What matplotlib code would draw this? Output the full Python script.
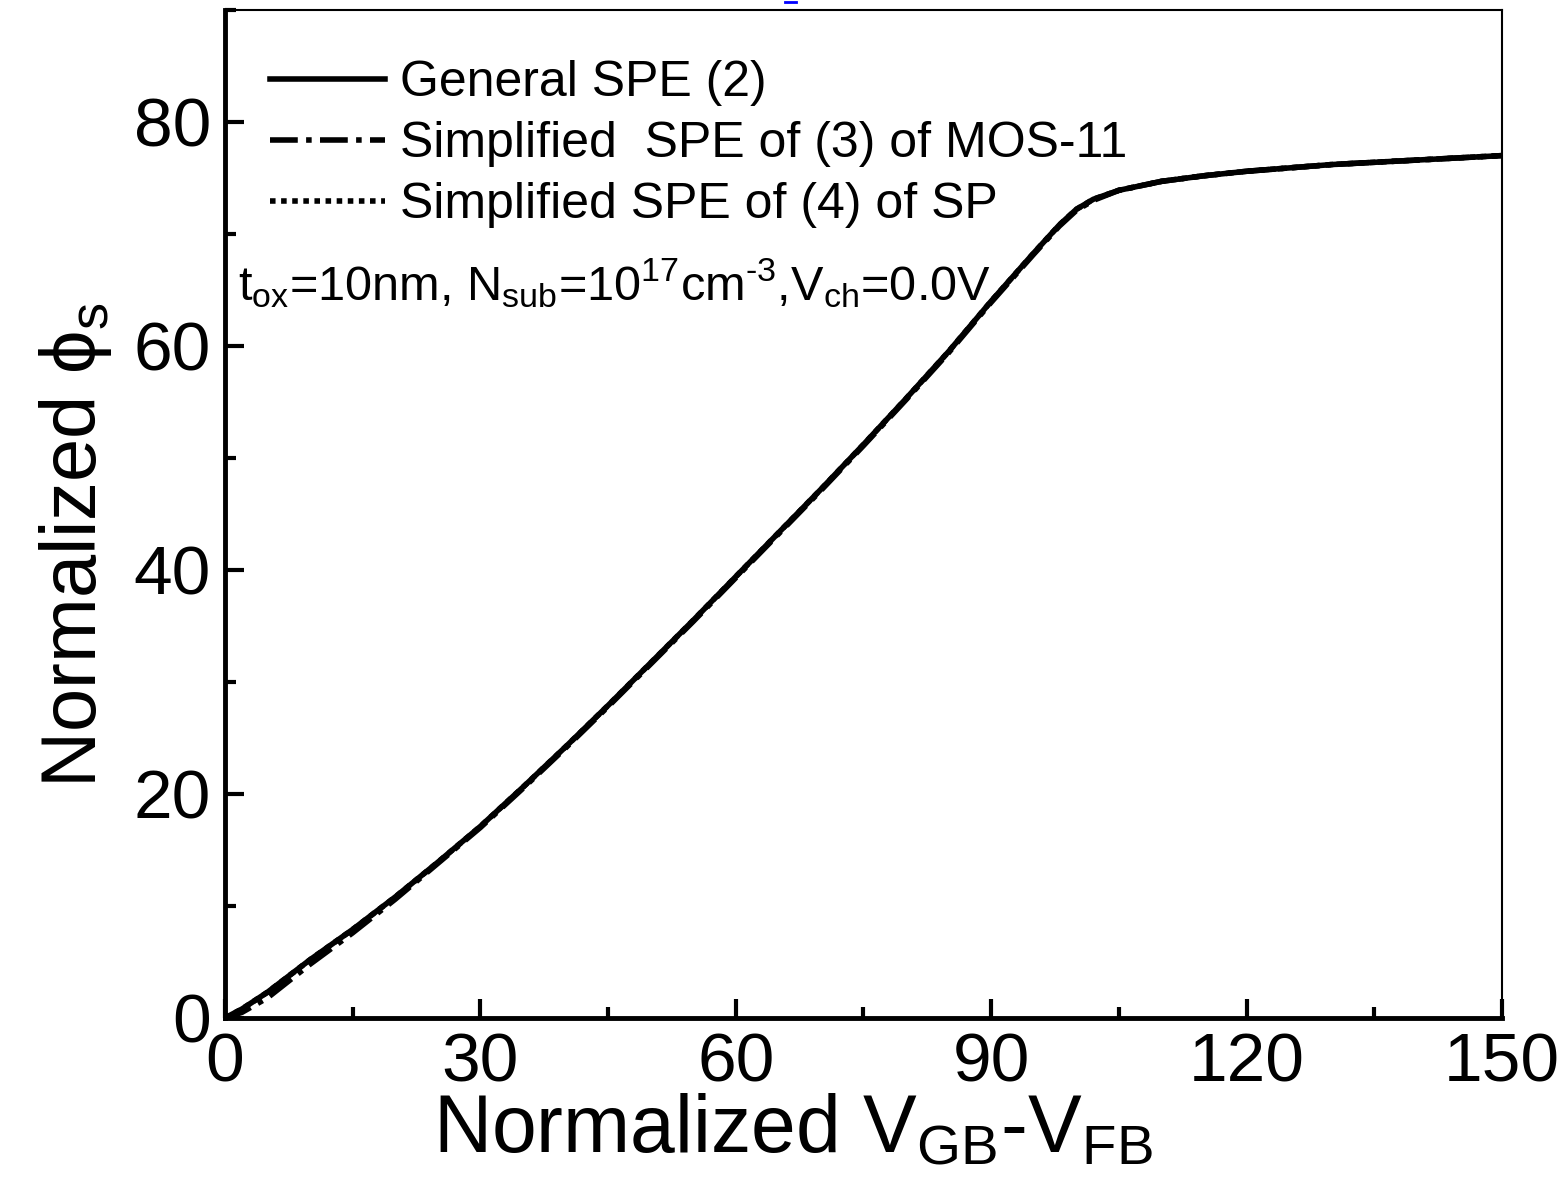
import matplotlib
matplotlib.use('Agg')
import matplotlib.pyplot as plt
from matplotlib.lines import Line2D
from matplotlib.ticker import MultipleLocator

plt.rcParams['font.family'] = ['Liberation Sans', 'DejaVu Sans']
plt.rcParams['mathtext.fontset'] = 'custom'
plt.rcParams['mathtext.rm'] = 'Liberation Sans'
plt.rcParams['mathtext.it'] = 'Liberation Sans'

# curve data
vgb = [0, 2, 5, 10, 15, 20, 25, 30, 35, 40, 45, 50, 55, 60, 65, 70, 75, 80,
       85, 90, 95, 98, 100, 102, 105, 110, 115, 120, 130, 140, 150]
phi_general = [0, 0.8, 2.3, 5.2, 7.9, 10.8, 13.9, 17.1, 20.6, 24.2, 27.9, 31.7,
               35.5, 39.4, 43.3, 47.2, 51.2, 55.3, 59.5, 64.0, 68.3, 70.8, 72.2,
               73.1, 73.9, 74.7, 75.2, 75.6, 76.2, 76.6, 77.0]
phi_mos11 = [0, 0.5, 1.8, 4.8, 7.6, 10.6, 13.8, 17.0, 20.5, 24.1, 27.8, 31.6,
             35.4, 39.3, 43.2, 47.1, 51.1, 55.2, 59.4, 63.9, 68.2, 70.7, 72.1,
             73.0, 73.9, 74.7, 75.2, 75.6, 76.2, 76.6, 77.0]
phi_sp = [0, 0.8, 2.3, 5.2, 7.9, 10.8, 13.9, 17.1, 20.6, 24.2, 27.9, 31.7,
          35.5, 39.4, 43.3, 47.2, 51.2, 55.3, 59.5, 64.0, 68.3, 70.8, 72.2,
          73.1, 73.9, 74.7, 75.2, 75.6, 76.2, 76.6, 77.0]
labels = ['General SPE (2)', 'Simplified  SPE of (3) of MOS-11',
          'Simplified SPE of (4) of SP']

fig = plt.figure(figsize=(15.6, 11.91), dpi=100)
ax = fig.add_axes([0.1442, 0.1453, 0.8186, 0.8463])

ax.plot(vgb, phi_general, color='black', lw=4, ls='-', label=labels[0])
ax.plot(vgb, phi_mos11, color='black', lw=4, ls=(0, (5, 1.5, 1, 1.5)), label=labels[1])
ax.plot(vgb, phi_sp, color='black', lw=4, ls=(0, (1, 1)), label=labels[2])

ax.set_xlim(0, 150)
ax.set_ylim(0, 90)
ax.xaxis.set_major_locator(MultipleLocator(30))
ax.xaxis.set_minor_locator(MultipleLocator(15))
ax.yaxis.set_major_locator(MultipleLocator(20))
ax.yaxis.set_minor_locator(MultipleLocator(10))
ax.tick_params(which='both', direction='in', width=3, top=False, right=False,
               labelsize=50, pad=10)
ax.tick_params(which='major', length=14)
ax.tick_params(which='minor', length=8)
for side in ['left', 'bottom']:
    ax.spines[side].set_linewidth(3.5)
for side in ['top', 'right']:
    ax.spines[side].set_linewidth(1.5)

ax.set_xlabel(r'Normalized V$_{\mathregular{GB}}$-V$_{\mathregular{FB}}$', fontsize=58)
ax.xaxis.set_label_coords(0.445, -0.075)
ax.set_ylabel(r'Normalized $\phi_{\mathregular{s}}$', fontsize=56)
ax.yaxis.set_label_coords(-0.087, 0.469)

leg = ax.legend(loc='upper left', bbox_to_anchor=(0.0, 0.995), frameon=False,
                handlelength=2.3, handletextpad=0.3, labelspacing=0.3,
                prop={'size': 36})

note = (r'$\text{t}_{\text{ox}}\text{=10nm, N}_{\text{sub}}\text{=10}^{\text{17}}'
        r'\text{cm}^{\text{-3}}\text{,V}_{\text{ch}}\text{=0.0V}$')
ax.text(0.01, 0.712, note, transform=ax.transAxes, fontsize=35,
        ha='left', va='baseline')

fig.add_artist(Line2D([0.503, 0.510], [0.998, 0.998], color='blue', lw=2,
                      transform=fig.transFigure))

fig.savefig('out.png', dpi=100)
